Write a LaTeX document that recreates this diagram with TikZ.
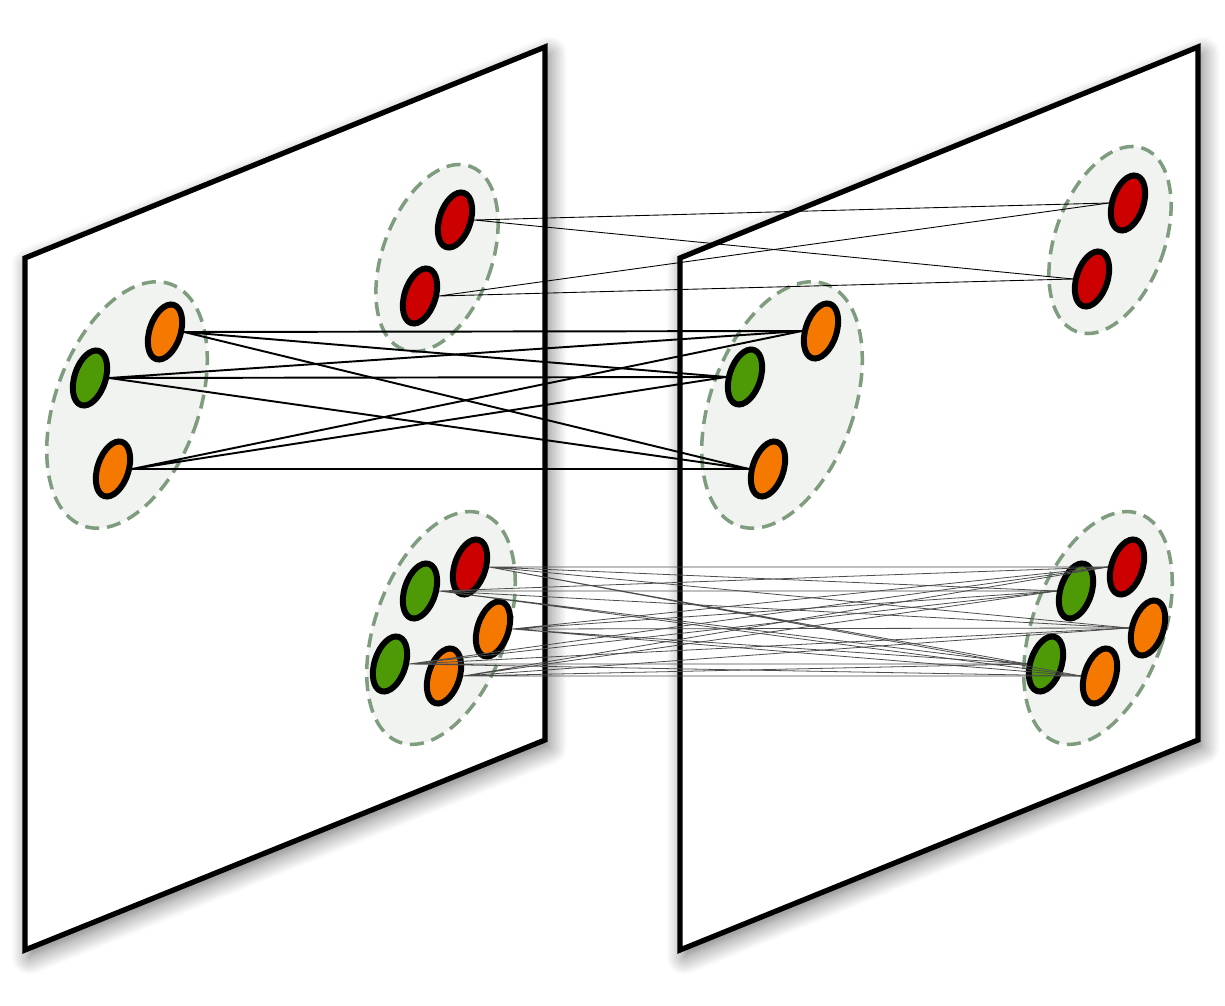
\documentclass[tikz,border=0pt]{standalone}
\usetikzlibrary{shapes.geometric,shadows,shadows.blur}

\definecolor{tred}{HTML}{CC0000}
\definecolor{torange}{HTML}{F57900}
\definecolor{tgreen}{HTML}{4E9A06}
\definecolor{gborder}{HTML}{7F9C7F}
\definecolor{gfill}{HTML}{F1F3F0}

\tikzset{
  plane/.style={draw=black,line width=3pt,line join=miter,fill=white,
    blur shadow={shadow xshift=2.5pt,shadow yshift=-4pt,shadow blur radius=10pt,
      shadow blur steps=10,shadow opacity=55}},
  cluster/.style={ellipse,draw=gborder,fill=gfill,line width=2pt,
    dash pattern=on 8pt off 4.5pt,inner sep=0pt,rotate=-20},
  vertex/.style={ellipse,draw=black,line width=3.4pt,inner sep=0pt,
    minimum width=6.2mm,minimum height=11.4mm,rotate=-18},
  rv/.style={vertex,fill=tred},
  ov/.style={vertex,fill=torange},
  gv/.style={vertex,fill=tgreen},
  strong/.style={black,line width=1.1pt},
  weak/.style={black,line width=0.5pt},
  faint/.style={black!70,line width=0.45pt}
}

\begin{document}
\begin{tikzpicture}[x=0.2mm,y=-0.2mm]
\useasboundingbox (0,0) rectangle (1225,1006);

% the two planes
\draw[plane] (25,258) -- (545,47) -- (545,740) -- (25,950) -- cycle;
\draw[plane] (680,258) -- (1198,47) -- (1198,740) -- (680,950) -- cycle;

% clusters
\node[cluster,minimum width=21.8mm,minimum height=39mm] (LT) at (437,258) {};
\node[cluster,minimum width=28.6mm,minimum height=51.4mm] (LM) at (127,405) {};
\node[cluster,minimum width=26.2mm,minimum height=48.6mm] (LB) at (441,628) {};
\node[cluster,minimum width=21.8mm,minimum height=39mm] (RT) at (1110,240) {};
\node[cluster,minimum width=28.6mm,minimum height=51.4mm] (RM) at (782,405) {};
\node[cluster,minimum width=26.2mm,minimum height=48.6mm] (RB) at (1098,628) {};

% left plane
\node[rv] (LTa) at (455,220) {};
\node[rv] (LTb) at (420,296) {};
\node[ov] (LMa) at (165,332) {};
\node[gv] (LMb) at (90,378) {};
\node[ov] (LMc) at (113,469) {};
\node[rv] (LBa) at (470,567) {};
\node[gv] (LBb) at (420,591) {};
\node[ov] (LBc) at (493,629) {};
\node[gv] (LBd) at (390,664) {};
\node[ov] (LBe) at (444,676) {};

% right plane
\node[rv] (RTa) at (1128,203) {};
\node[rv] (RTb) at (1092,279) {};
\node[ov] (RMa) at (821,331) {};
\node[gv] (RMb) at (745,377) {};
\node[ov] (RMc) at (768,469) {};
\node[rv] (RBa) at (1127,567) {};
\node[gv] (RBb) at (1076,591) {};
\node[ov] (RBc) at (1148,628) {};
\node[gv] (RBd) at (1046,664) {};
\node[ov] (RBe) at (1100,676) {};

% top
\draw[weak] (LTa.18) -- (RTa.198) (LTa.18) -- (RTb.198);
\draw[weak] (LTb.18) -- (RTa.198) (LTb.18) -- (RTb.198);

% middle
\draw[strong] (LMa.18) -- (RMa.198) (LMa.18) -- (RMb.198) (LMa.18) -- (RMc.198);
\draw[strong] (LMb.18) -- (RMa.198) (LMb.18) -- (RMb.198) (LMb.18) -- (RMc.198);
\draw[strong] (LMc.18) -- (RMa.198) (LMc.18) -- (RMb.198) (LMc.18) -- (RMc.198);

% bottom
\draw[faint] (LBa.18) -- (RBa.198) (LBa.18) -- (RBb.198) (LBa.18) -- (RBc.198) (LBa.18) -- (RBd.198) (LBa.18) -- (RBe.198);
\draw[faint] (LBb.18) -- (RBa.198) (LBb.18) -- (RBb.198) (LBb.18) -- (RBc.198) (LBb.18) -- (RBd.198) (LBb.18) -- (RBe.198);
\draw[faint] (LBc.18) -- (RBa.198) (LBc.18) -- (RBb.198) (LBc.18) -- (RBc.198) (LBc.18) -- (RBd.198) (LBc.18) -- (RBe.198);
\draw[faint] (LBd.18) -- (RBa.198) (LBd.18) -- (RBb.198) (LBd.18) -- (RBc.198) (LBd.18) -- (RBd.198) (LBd.18) -- (RBe.198);
\draw[faint] (LBe.18) -- (RBa.198) (LBe.18) -- (RBb.198) (LBe.18) -- (RBc.198) (LBe.18) -- (RBd.198) (LBe.18) -- (RBe.198);
\end{tikzpicture}
\end{document}
